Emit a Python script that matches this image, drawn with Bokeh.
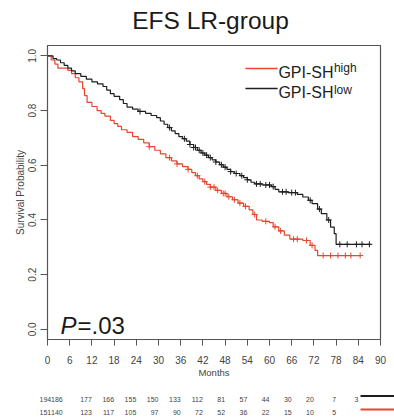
import numpy as np
from bokeh.plotting import figure
from bokeh.layouts import column
from bokeh.models import Range1d, FixedTicker, Label, PrintfTickFormatter
from bokeh.core.properties import value
from bokeh.embed import file_html
from bokeh.resources import INLINE

# ---- data ----
low_t = [0, 1.5, 2.5, 3.5, 4.5, 5.5, 6.5, 7.5, 9, 10.5, 12, 13.5, 15, 16, 17, 18, 19.5, 20.5, 21.5, 23, 24.5,
         26.5, 28, 29.5, 30.5, 31.5, 32.5, 33.5, 34.5, 35.5, 36.5, 37.5, 38.5, 39.5, 40.5, 41.5, 42.5, 43.5,
         44.5, 45.5, 46.5, 47.5, 48.5, 49.5, 50.5, 52, 53, 54, 55, 56, 58, 60.5, 61.5, 62.5, 65, 67.5, 69,
         70.5, 71.5, 73, 74, 75.5, 76.5, 77.5, 78, 87.3]
low_s = [1.0, 0.99, 0.985, 0.975, 0.965, 0.955, 0.945, 0.935, 0.925, 0.915, 0.905, 0.898, 0.888, 0.875, 0.862,
         0.852, 0.84, 0.826, 0.813, 0.805, 0.797, 0.79, 0.782, 0.774, 0.762, 0.75, 0.738, 0.726, 0.716, 0.705,
         0.697, 0.688, 0.676, 0.665, 0.655, 0.645, 0.637, 0.628, 0.62, 0.612, 0.602, 0.593, 0.585, 0.577, 0.57,
         0.562, 0.555, 0.547, 0.538, 0.532, 0.528, 0.522, 0.512, 0.503, 0.5, 0.494, 0.484, 0.472, 0.46, 0.44,
         0.423, 0.4, 0.374, 0.35, 0.311, 0.311]
low_cens = [25, 33, 37, 38.5, 39.5, 40, 41, 42, 43, 44, 45.5, 47, 48, 49.5, 51, 52.5, 54, 56.5, 57.5, 59, 60,
            61, 63.5, 64.5, 66, 67, 71, 73.5, 76, 79, 81, 83.5, 85, 87]

high_t = [0, 1, 2, 2.8, 5.5, 6.5, 7.5, 8.5, 9.5, 10, 10.7, 12, 13.4, 14.5, 15.5, 17, 18, 19, 20, 21.5, 23, 24.5,
          26, 27.5, 29, 30.5, 32, 33.5, 35, 36.5, 38, 39, 40, 41, 42, 43, 44, 45.5, 47, 48.5, 50, 51.5, 53,
          54.5, 55.5, 56.5, 58, 60, 61, 62.5, 64, 65.5, 69, 71, 72.3, 73, 84.6]
high_s = [1.0, 0.985, 0.97, 0.955, 0.947, 0.935, 0.92, 0.905, 0.88, 0.855, 0.83, 0.815, 0.8, 0.79, 0.78, 0.764,
          0.752, 0.742, 0.73, 0.72, 0.705, 0.695, 0.682, 0.668, 0.655, 0.642, 0.628, 0.616, 0.605, 0.595, 0.585,
          0.573, 0.562, 0.55, 0.54, 0.53, 0.52, 0.508, 0.497, 0.485, 0.474, 0.462, 0.45, 0.437, 0.42, 0.4,
          0.395, 0.39, 0.375, 0.36, 0.345, 0.33, 0.325, 0.307, 0.289, 0.27, 0.27]
high_cens = [27.5, 33, 35, 38, 40.5, 42.5, 44, 45, 46, 47.5, 48, 49, 50.5, 52, 53.5, 56, 59, 61.5, 63, 66.5,
             67.5, 70, 71.5, 74.5, 76.5, 78.5, 80.5, 82, 84.5]

risk_times = [0, 6, 12, 18, 24, 30, 36, 42, 48, 54, 60, 66, 72, 78, 84]
risk_low = [194, 186, 177, 166, 155, 150, 133, 112, 81, 57, 44, 30, 20, 7, 3]
risk_high = [151, 140, 123, 117, 105, 97, 90, 72, 52, 36, 22, 15, 10, 5]

x_ticks = list(range(0, 91, 6))
y_ticks = [0, 0.2, 0.4, 0.6, 0.8, 1.0]

RED = "#e8462e"
BLACK = "#1e1e1e"
AX = "#555555"
FONT = "Liberation Sans"
PX = 3.7  # pixels per month, shared by all three panels

# ---- title panel ----
t = figure(width=394, height=45, output_backend="svg", toolbar_location=None, frame_align=False,
           x_range=Range1d(-47 / PX, 347 / PX), y_range=Range1d(0, 45),
           min_border_left=0, min_border_right=0, min_border_top=0, min_border_bottom=0)
t.axis.visible = False
t.grid.visible = False
t.outline_line_color = None
t.text(x=[44.05], y=[25], text=["EFS LR-group"], text_align="center", text_baseline="alphabetic",
       text_font=value(FONT), text_font_size="24.5px", text_color="#1a1a1a")

# ---- main plot ----
p = figure(width=394, height=337, output_backend="svg", toolbar_location=None, frame_align=False,
           x_range=Range1d(0, 90), y_range=Range1d(-0.037, 1.038),
           min_border_left=47, min_border_right=14, min_border_top=0, min_border_bottom=43)
p.grid.visible = False
p.outline_line_color = AX
p.outline_line_width = 1.2

for ax in (p.xaxis[0], p.yaxis[0]):
    ax.axis_line_color = AX
    ax.major_tick_line_color = AX
    ax.minor_tick_line_color = None
    ax.major_tick_in = 0
    ax.major_label_text_font = FONT
    ax.major_label_text_font_size = "10px"
    ax.major_label_text_color = "#444444"
    ax.axis_label_text_font = FONT
    ax.axis_label_text_font_style = "normal"
    ax.axis_label_text_color = "#444444"

p.xaxis.ticker = FixedTicker(ticks=x_ticks)
p.xaxis.major_tick_out = 6
p.xaxis.major_label_standoff = 10
p.xaxis.axis_label = "Months"
p.xaxis.axis_label_text_font_size = "9.5px"
p.xaxis.axis_label_standoff = 0

p.yaxis.ticker = FixedTicker(ticks=y_ticks)
p.yaxis.formatter = PrintfTickFormatter(format="%.1f")
p.yaxis.major_tick_out = 7
p.yaxis.major_label_standoff = 4
p.yaxis.major_label_orientation = "vertical"
p.yaxis.axis_label = "Survival Probability"
p.yaxis.axis_label_text_font_size = "10px"
p.yaxis.axis_label_standoff = 0

# curves
p.step(high_t, high_s, mode="after", line_color=RED, line_width=1.2)
p.step(low_t, low_s, mode="after", line_color=BLACK, line_width=1.2)

def at(ts, ss, c):
    idx = np.searchsorted(np.array(ts), np.array(c), side="right") - 1
    return [ss[i] for i in idx]

p.scatter(high_cens, at(high_t, high_s, high_cens), marker="cross", size=6, line_color=RED, line_width=1)
p.scatter(low_cens, at(low_t, low_s, low_cens), marker="cross", size=6, line_color=BLACK, line_width=1)

# legend
p.segment(x0=[53.5], y0=[0.954], x1=[62.2], y1=[0.954], line_color=RED, line_width=1.5)
p.segment(x0=[53.5], y0=[0.881], x1=[62.2], y1=[0.881], line_color=BLACK, line_width=1.5)
for yb, sup, ys in ((0.9397, "high", 0.956), (0.8647, "low", 0.8764)):
    p.add_layout(Label(x=62.4, y=yb, text="GPI-SH", text_font=FONT, text_font_size="16px",
                       text_color="#222222", text_baseline="alphabetic"))
    p.add_layout(Label(x=77.4, y=ys, text=sup, text_font=FONT, text_font_size="12px",
                       text_color="#222222", text_baseline="alphabetic"))

# P value
p.add_layout(Label(x=3.5, y=0.0146, text="P", text_font=FONT, text_font_size="24px",
                   text_font_style="italic", text_color="#1a1a1a", text_baseline="alphabetic"))
p.add_layout(Label(x=8.1, y=0.0146, text="=.03", text_font=FONT, text_font_size="24px",
                   text_color="#1a1a1a", text_baseline="alphabetic"))

# ---- risk table (same month scale) ----
r = figure(width=394, height=35, output_backend="svg", toolbar_location=None, frame_align=False,
           x_range=Range1d(-47 / PX, 347 / PX), y_range=Range1d(0, 35),
           min_border_left=0, min_border_right=0, min_border_top=0, min_border_bottom=0)
r.axis.visible = False
r.grid.visible = False
r.outline_line_color = None

first_x = [1.0, 4.1]
xs_low = first_x + risk_times[2:len(risk_low)]
xs_high = first_x + risk_times[2:len(risk_high)]
r.text(x=xs_low, y=[18.5] * len(risk_low), text=[str(v) for v in risk_low], text_align="right",
       text_baseline="alphabetic", text_font=value(FONT), text_font_size="7px", text_color="#444444")
r.text(x=xs_high, y=[5.5] * len(risk_high), text=[str(v) for v in risk_high], text_align="right",
       text_baseline="alphabetic", text_font=value(FONT), text_font_size="7px", text_color="#444444")
r.segment(x0=[84.6], y0=[21.5], x1=[93.8], y1=[21.5], line_color=BLACK, line_width=2)
r.segment(x0=[84.6], y0=[8], x1=[93.8], y1=[8], line_color=RED, line_width=2)

layout = column(t, p, r, spacing=0)
open("out.html", "w").write(file_html(layout, INLINE))
